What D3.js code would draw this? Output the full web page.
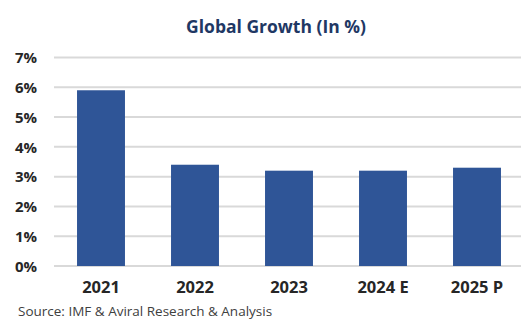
<!DOCTYPE html>
<html><head><meta charset="utf-8">
<script src="https://cdn.jsdelivr.net/npm/d3@7"></script>
<style>body{margin:0;background:#fff}svg{display:block}</style>
</head><body>
<script>
const categories = ["2021", "2022", "2023", "2024 E", "2025 P"];
const growth = [5.9, 3.4, 3.2, 3.2, 3.3];
const yTicks = [0, 1, 2, 3, 4, 5, 6, 7];
const title = "Global Growth (In %)";
const source = "Source: IMF & Aviral Research & Analysis";

const W = 521, H = 320;
const svg = d3.select("body").append("svg").attr("width", W).attr("height", H);
const font = "'Open Sans', 'Liberation Sans', sans-serif";

const x = d3.scaleBand().domain(categories).range([54, 524]).paddingInner(0.49).paddingOuter(0.245);
const y = d3.scaleLinear().domain([0, 7]).range([266, 57.5]);

svg.append("text").attr("x", 276).attr("y", 33).attr("text-anchor", "middle")
  .attr("font-family", font).attr("font-weight", "bold").attr("font-size", 17.5)
  .attr("fill", "#1f3864").text(title);

// gridlines
svg.append("g").selectAll("line").data(yTicks).join("line")
  .attr("x1", 54).attr("x2", 521)
  .attr("y1", d => y(d)).attr("y2", d => y(d))
  .attr("stroke", "#d9d9d9").attr("stroke-width", 2);

// y axis labels
const yAxis = d3.axisLeft(y).tickValues(yTicks).tickFormat(d => d + "%").tickSize(0).tickPadding(0);
const gy = svg.append("g").attr("transform", "translate(37,0)").call(yAxis);
gy.select(".domain").remove();
gy.selectAll("text").attr("font-family", font).attr("font-weight", "bold")
  .attr("font-size", 15).attr("fill", "#262626").attr("dy", "0.35em");

// bars
svg.append("g").selectAll("rect").data(growth).join("rect")
  .attr("x", (d, i) => x(categories[i])).attr("width", x.bandwidth())
  .attr("y", d => y(d)).attr("height", d => y(0) - y(d))
  .attr("fill", "#2f5597");

// x axis labels
const xAxis = d3.axisBottom(x).tickSize(0).tickPadding(0);
const gx = svg.append("g").attr("transform", "translate(0,282)").call(xAxis);
gx.select(".domain").remove();
gx.selectAll("text").attr("font-family", font).attr("font-weight", "bold")
  .attr("font-size", 16.5).attr("fill", "#262626").attr("dy", "0.68em");

svg.append("text").attr("x", 18).attr("y", 315.5)
  .attr("font-family", font).attr("font-size", 13.5).attr("fill", "#404040").text(source);
</script>
</body></html>
